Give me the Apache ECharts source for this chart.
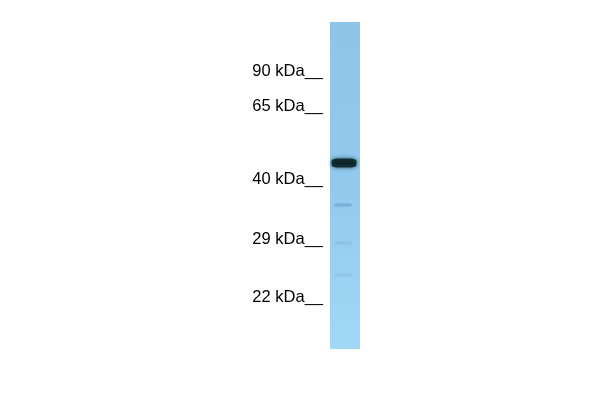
<!DOCTYPE html>
<html>
<head>
<meta charset="utf-8">
<script src="https://cdn.jsdelivr.net/npm/echarts@6/dist/echarts.min.js"></script>
<style>
html,body{margin:0;padding:0;background:#fff;}
#chart{width:600px;height:400px;}
</style>
</head>
<body>
<div id="chart"></div>
<script>
// Lane / marker data (migration distance from top of lane, in px units of the blot)
const lanes = ['Sample'];
const laneLength = [327];
const markerLabels = ['90 kDa', '65 kDa', '40 kDa', '29 kDa', '22 kDa'];
const markerPos = [49.5, 84.5, 157.5, 217.5, 275];
const mainBandPos = [141];
const faintBandPos = [183, 221, 253];
const faintBandStrength = [0.22, 0.08, 0.08];

const chart = echarts.init(document.getElementById('chart'), null, {renderer: 'canvas'});

const option = {
  animation: false,
  backgroundColor: '#ffffff',
  grid: {left: 330, width: 30, top: 22, height: 327},
  xAxis: {
    type: 'category',
    data: lanes,
    show: false
  },
  yAxis: {
    type: 'value',
    min: 0,
    max: 327,
    inverse: true,
    axisLine: {show: false},
    axisTick: {show: false},
    splitLine: {show: false},
    axisLabel: {
      customValues: markerPos,
      margin: 7,
      fontSize: 16.5,
      fontFamily: '"Liberation Sans", Arial, sans-serif',
      color: '#000',
      formatter: function (v) {
        const i = markerPos.indexOf(v);
        return (i >= 0 ? markerLabels[i] : '') + '__';
      }
    }
  },
  series: [
    {
      type: 'bar',
      data: laneLength,
      barWidth: '100%',
      silent: true,
      itemStyle: {
        color: {
          type: 'linear', x: 0, y: 0, x2: 0, y2: 1,
          colorStops: [
            {offset: 0, color: '#8ec4e8'},
            {offset: 0.5, color: '#92c9ed'},
            {offset: 1, color: '#9fd9f6'}
          ]
        }
      }
    },
    {
      type: 'scatter',
      data: faintBandPos.map((p, i) => ({
        value: [0, p],
        itemStyle: {opacity: faintBandStrength[i]}
      })),
      symbol: 'roundRect',
      symbolSize: [18, 3],
      symbolOffset: [-2, 0],
      silent: true,
      itemStyle: {color: '#3a6f9c', shadowBlur: 3, shadowColor: 'rgba(58,111,156,0.6)'}
    },
    {
      type: 'scatter',
      data: mainBandPos.map(p => [0, p]),
      symbol: 'roundRect',
      symbolSize: [25, 9],
      symbolOffset: [-1, 0],
      silent: true,
      itemStyle: {
        color: '#051a1b',
        shadowBlur: 4,
        shadowColor: 'rgba(5,30,40,0.9)'
      }
    }
  ]
};
chart.setOption(option);
</script>
</body>
</html>
